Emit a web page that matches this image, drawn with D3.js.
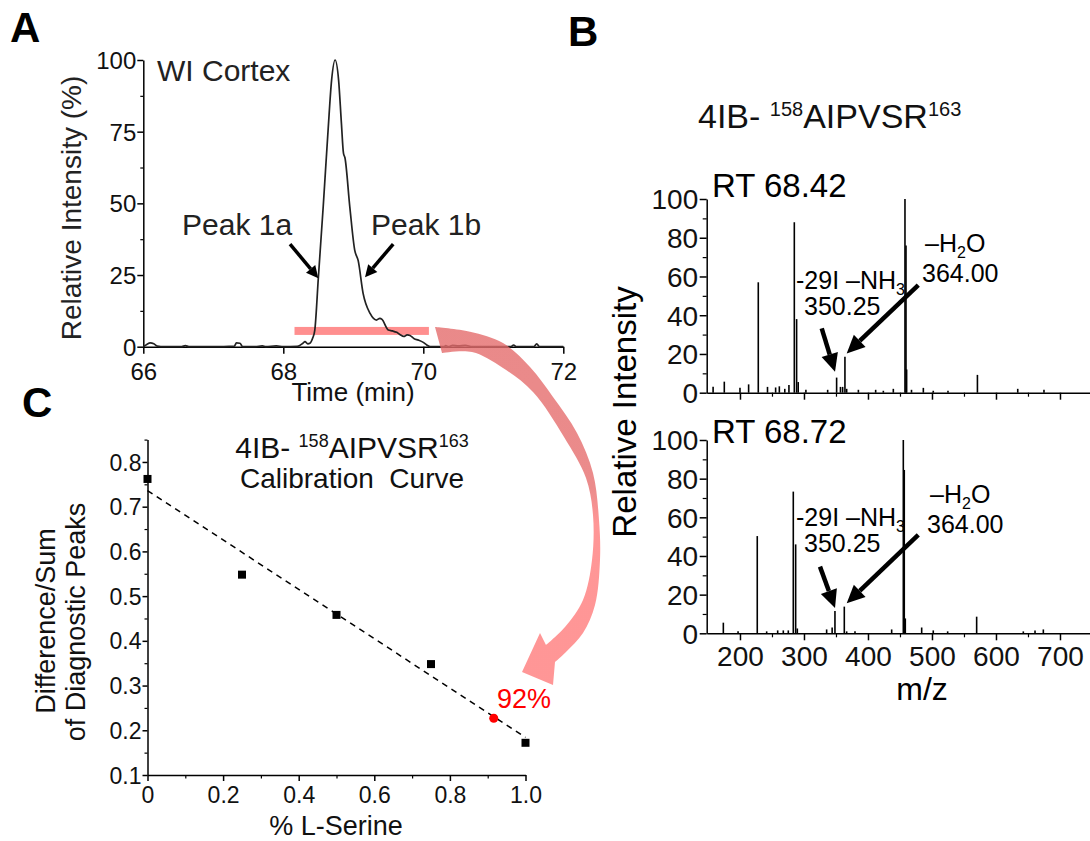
<!DOCTYPE html>
<html>
<head>
<meta charset="utf-8">
<script src="https://cdn.jsdelivr.net/npm/d3@7"></script>
<style>
  body { margin: 0; background: #fff; }
  svg text { font-family: "Liberation Sans", Arial, sans-serif; }
</style>
</head>
<body>
<div id="canvas"></div>
<script>
"use strict";

/* Panel A: chromatogram (time in min, relative intensity in %) */
let chromTime = [66.0, 66.05, 66.1, 66.15, 66.2, 66.3, 66.55, 66.6, 66.65, 67.0, 67.3, 67.33, 67.38, 67.42,
  67.6, 67.7, 67.75, 67.9, 68.0, 68.2, 68.28, 68.31, 68.35, 68.38, 68.42, 68.45, 68.5, 68.57, 68.64,
  68.69, 68.74, 68.79, 68.83, 68.86, 68.88, 68.95, 69.02, 69.07, 69.14, 69.24, 69.33, 69.38, 69.41,
  69.5, 69.56, 69.62, 69.67, 69.72, 69.77, 69.81, 69.87, 69.93, 70.0, 70.05, 70.1, 70.3, 70.32, 70.36,
  70.42, 70.5, 70.6, 70.7, 71.25, 71.29, 71.33, 71.58, 71.62, 71.66, 72.0];
let chromIntensity = [0, 0.8, 1.3, 1.0, 0.2, 0, 0, 0.4, 0, 0, 0.2, 1.3, 1.2, 0,
  0, 0.3, 0, 0.3, 0, 0.1, 1.2, 1.8, 1.0, 1.2, 3, 5.8, 23.8, 48.8, 75.6,
  93, 100, 93, 78, 67.4, 66, 48.8, 33.7, 30, 18.6, 11.6, 9.3, 9.9, 9.5,
  5.8, 5.5, 5.0, 4.2, 3.6, 4.1, 3.9, 2.8, 2.3, 1.5, 0.6, 0, 0, 0.4, 0,
  0.5, 0.3, 0.5, 0, 0, 0.6, 0, 0, 1.0, 0, 0];
let chromTicksX = [66, 68, 70, 72];
let chromTicksY = [0, 25, 50, 75, 100];
let chromMinorY = [12.5, 37.5, 62.5, 87.5];
let peakWindow = [68.16, 70.08];   // time span of the red bar
let peakWindowLevel = 5.5;

/* Panel B: MS/MS spectra (m/z, relative intensity) */
let spec1Mz = [158, 175.5, 200, 213.5, 228.6, 243, 255.7, 261.5, 270, 276.5, 284.9, 288.5, 291, 303,
  337, 351, 357, 360.4, 364, 366.7, 385, 412, 424, 439.6, 457.8, 459.4, 460.4, 468, 486.5, 502, 525,
  571, 634, 675];
let spec1Int = [3.1, 5.7, 2.5, 4.3, 57, 3, 2.7, 3.3, 2, 4, 88, 38, 5.5, 1.5,
  1.5, 7.8, 3, 3, 18.6, 2, 1.5, 1.5, 1, 2, 100, 76, 12, 1.5, 2.5, 1, 1,
  9.2, 2, 1.5];
let spec2Mz = [174, 197, 227, 241.7, 258.9, 267.7, 275.5, 283.3, 287, 289.6, 335.4, 344, 348.4, 363,
  366.7, 379.7, 437, 455.2, 456.7, 458.3, 483.9, 502, 524.5, 569.8, 642.7, 661, 674];
let spec2Int = [5.5, 1, 50.3, 1, 1.5, 1.5, 1.5, 73.3, 46, 2.5, 2, 3, 11.5, 13.8,
  1, 1, 2, 100, 84.5, 7.7, 3, 1.5, 1, 8.6, 1, 1.5, 2];
let specTicksX = [200, 300, 400, 500, 600, 700];
let specMinorX = [250, 350, 450, 550, 650];
let specTicksY = [0, 20, 40, 60, 80, 100];
let specMinorY = [10, 30, 50, 70, 90];

/* Panel C: calibration curve */
let calX = [0, 0.25, 0.5, 0.75, 1.0];
let calY = [0.762, 0.548, 0.458, 0.348, 0.172];
let fitX = [0, 1.0];
let fitY = [0.736, 0.184];
let sampleX = [0.916];
let sampleY = [0.227];
let calTicksX = [0, 0.2, 0.4, 0.6, 0.8, 1.0];
let calTickLabelsX = ["0", "0.2", "0.4", "0.6", "0.8", "1.0"];
let calMinorX = [0.1, 0.3, 0.5, 0.7, 0.9];
let calTicksY = [0.1, 0.2, 0.3, 0.4, 0.5, 0.6, 0.7, 0.8];
let calMinorY = [0.15, 0.25, 0.35, 0.45, 0.55, 0.65, 0.75, 0.85];

/* Drawing canvas */
let svgWidth = 1090;
let svgHeight = 841;
let svg = d3.select("#canvas")
  .append("svg")
  .attr("width", svgWidth)
  .attr("height", svgHeight);

let defs = svg.append("defs");

/* helper: style an axis group */
function styleAxis(g, fontSize) {
  g.select(".domain").attr("stroke", "#000").attr("stroke-width", 1.5);
  g.selectAll(".tick line").attr("stroke", "#000").attr("stroke-width", 1.5);
  g.selectAll("text").attr("fill", "#111").attr("font-size", fontSize + "px")
    .attr("font-family", "'Liberation Sans', Arial, sans-serif");
}

function minorAxis(axisFn, scale, values, size, transform) {
  let g = svg.append("g")
    .attr("transform", transform)
    .call(axisFn(scale).tickValues(values).tickSize(size).tickFormat(""));
  g.select(".domain").remove();
  g.selectAll(".tick line").attr("stroke", "#000").attr("stroke-width", 1.2);
}

/* helper: straight arrow with filled head */
function arrow(x1, y1, x2, y2, w, headLen, headWid) {
  let ang = Math.atan2(y2 - y1, x2 - x1);
  let bx = x2 - headLen * Math.cos(ang);
  let by = y2 - headLen * Math.sin(ang);
  svg.append("line")
    .attr("x1", x1).attr("y1", y1).attr("x2", bx).attr("y2", by)
    .attr("stroke", "#000").attr("stroke-width", w);
  let px = -Math.sin(ang) * headWid / 2;
  let py = Math.cos(ang) * headWid / 2;
  svg.append("path")
    .attr("d", "M" + x2 + "," + y2 + "L" + (bx + px) + "," + (by + py) + "L" + (bx - px) + "," + (by - py) + "Z")
    .attr("fill", "#000");
}

/* ---------- Panel A ---------- */
let xA = d3.scaleLinear().domain([66, 72]).range([143.3, 563.3]);
let yA = d3.scaleLinear().domain([0, 100]).range([346.7, 60]);

let axAx = svg.append("g")
  .attr("transform", "translate(0," + yA(0) + ")")
  .call(d3.axisBottom(xA).tickValues(chromTicksX).tickSize(7).tickSizeOuter(0).tickFormat(d3.format("d")));
styleAxis(axAx, 24);
axAx.selectAll("text").attr("y", 33).attr("dy", null);

let ayA = svg.append("g")
  .attr("transform", "translate(" + xA(66) + ",0)")
  .call(d3.axisLeft(yA).tickValues(chromTicksY).tickSize(6).tickPadding(1).tickSizeOuter(0));
styleAxis(ayA, 24);
ayA.selectAll("text").attr("dy", "0.35em");
minorAxis(d3.axisLeft, yA, chromMinorY, 3, "translate(" + xA(66) + ",0)");

/* red bar marking the diagnostic window */
svg.append("rect")
  .attr("x", xA(peakWindow[0]))
  .attr("y", yA(peakWindowLevel) - 4)
  .attr("width", xA(peakWindow[1]) - xA(peakWindow[0]))
  .attr("height", 8)
  .attr("fill", "rgb(255,100,100)")
  .attr("fill-opacity", 0.72);

let chromData = chromTime.map(function (t, i) { return { t: t, v: chromIntensity[i] }; });
svg.append("path")
  .datum(chromData)
  .attr("fill", "none")
  .attr("stroke", "#222")
  .attr("stroke-width", 1.7)
  .attr("d", d3.line()
    .x(function (d) { return xA(d.t); })
    .y(function (d) { return yA(d.v); })
    .curve(d3.curveMonotoneX));

svg.append("text").attr("x", 157).attr("y", 81).attr("font-size", "30px").attr("fill", "#222").text("WI Cortex");
svg.append("text").attr("x", 182).attr("y", 235).attr("font-size", "30px").attr("fill", "#222").text("Peak 1a");
svg.append("text").attr("x", 371).attr("y", 235).attr("font-size", "30px").attr("fill", "#222").text("Peak 1b");
arrow(xA(68.096), yA(35.8), xA(68.5), yA(23.9), 3.5, 12, 12);
arrow(xA(69.57), yA(35.8), xA(69.167), yA(24.2), 3.5, 12, 12);

svg.append("text")
  .attr("transform", "translate(81,208) rotate(-90)")
  .attr("text-anchor", "middle")
  .attr("font-size", "28px").attr("fill", "#222")
  .text("Relative Intensity (%)");
svg.append("text").attr("x", 353).attr("y", 401).attr("text-anchor", "middle")
  .attr("font-size", "26px").attr("fill", "#111").text("Time (min)");

/* ---------- Panel B ---------- */
let xB = d3.scaleLinear().domain([148, 748]).range([706.7, 1090.7]);
let yB1 = d3.scaleLinear().domain([0, 100]).range([392.7, 199]);
let yB2 = d3.scaleLinear().domain([0, 100]).range([633.3, 440]);

function spectrum(yS, mz, inten, showLabels) {
  let gx = svg.append("g")
    .attr("transform", "translate(0," + yS(0) + ")")
    .call(d3.axisBottom(xB).tickValues(specTicksX).tickSize(7).tickSizeOuter(0));
  styleAxis(gx, 28);
  if (showLabels) {
    gx.selectAll("text").attr("y", 33).attr("dy", null);
  } else {
    gx.selectAll("text").remove();
  }
  minorAxis(d3.axisBottom, xB, specMinorX, 4, "translate(0," + yS(0) + ")");

  let gy = svg.append("g")
    .attr("transform", "translate(" + xB(148) + ",0)")
    .call(d3.axisLeft(yS).tickValues(specTicksY).tickSize(7).tickPadding(1.5).tickSizeOuter(0));
  styleAxis(gy, 28);
  gy.selectAll("text").attr("dy", "0.35em");
  minorAxis(d3.axisLeft, yS, specMinorY, 4, "translate(" + xB(148) + ",0)");

  let peaks = mz.map(function (m, i) { return { mz: m, v: inten[i] }; });
  svg.append("g").selectAll("line")
    .data(peaks)
    .enter()
    .append("line")
    .attr("x1", function (d) { return xB(d.mz); })
    .attr("x2", function (d) { return xB(d.mz); })
    .attr("y1", yS(0))
    .attr("y2", function (d) { return yS(d.v); })
    .attr("stroke", "#000")
    .attr("stroke-width", 1.6);
}

spectrum(yB1, spec1Mz, spec1Int, false);
spectrum(yB2, spec2Mz, spec2Int, true);

/* title with superscripts */
function peptideTitle(x, y, size, anchor) {
  let t = svg.append("text").attr("x", x).attr("y", y).attr("font-size", size + "px")
    .attr("text-anchor", anchor).attr("fill", "#111");
  let sup = Math.round(size * 0.6);
  let lift = Math.round(size * 0.36);
  t.append("tspan").text("4IB- ");
  t.append("tspan").attr("font-size", sup + "px").attr("dy", -lift).text("158");
  t.append("tspan").attr("dy", lift).text("AIPVSR");
  t.append("tspan").attr("font-size", sup + "px").attr("dy", -lift).text("163");
  return t;
}
peptideTitle(698, 128, 34, "start");

svg.append("text").attr("x", 712).attr("y", 197).attr("font-size", "33px").attr("fill", "#000").text("RT 68.42");
svg.append("text").attr("x", 712).attr("y", 443).attr("font-size", "33px").attr("fill", "#000").text("RT 68.72");

function fragLabels(dy) {
  let t1 = svg.append("text").attr("x", 796).attr("y", 289 + dy).attr("font-size", "25px").attr("fill", "#000");
  t1.append("tspan").text("-29I \u2013NH");
  t1.append("tspan").attr("font-size", "16px").attr("dy", 6).text("3");
  svg.append("text").attr("x", 804).attr("y", 315 + dy).attr("font-size", "25px").attr("fill", "#000").text("350.25");
}
fragLabels(0);
fragLabels(237);

function waterLabels(xOff, dy) {
  let t = svg.append("text").attr("x", 925 + xOff).attr("y", 252 + dy).attr("font-size", "25px").attr("fill", "#000");
  t.append("tspan").text("\u2013H");
  t.append("tspan").attr("font-size", "16px").attr("dy", 6).text("2");
  t.append("tspan").attr("dy", -6).text("O");
  svg.append("text").attr("x", 922 + xOff).attr("y", 282 + dy).attr("font-size", "25px").attr("fill", "#000").text("364.00");
}
waterLabels(0, 0);
waterLabels(5, 251);

arrow(xB(327.7), yB1(33.2), xB(348.5), yB1(10.8), 4.5, 18, 17);
arrow(xB(478.6), yB1(55.6), xB(366.75), yB1(20.3), 4.5, 18, 17);
arrow(xB(325), yB2(34.5), xB(348.5), yB2(13.1), 4.5, 18, 17);
arrow(xB(478.6), yB2(50.9), xB(366.75), yB2(15.5), 4.5, 18, 17);

svg.append("text")
  .attr("transform", "translate(636,412) rotate(-90)")
  .attr("text-anchor", "middle")
  .attr("font-size", "33px").attr("fill", "#000")
  .text("Relative Intensity");
svg.append("text").attr("x", 922).attr("y", 700).attr("text-anchor", "middle")
  .attr("font-size", "32px").attr("fill", "#000").text("m/z");

/* ---------- Panel C ---------- */
let xC = d3.scaleLinear().domain([0, 1]).range([147.5, 525.5]);
let yC = d3.scaleLinear().domain([0.1, 0.85]).range([775, 439.6]);

let axC = svg.append("g")
  .attr("transform", "translate(0," + yC(0.1) + ")")
  .call(d3.axisBottom(xC).tickValues(calTicksX).tickSize(6).tickSizeOuter(0)
    .tickFormat(function (d, i) { return calTickLabelsX[i]; }));
styleAxis(axC, 23);
axC.selectAll("text").attr("y", 28).attr("dy", null);
minorAxis(d3.axisBottom, xC, calMinorX, 3.5, "translate(0," + yC(0.1) + ")");

let ayC = svg.append("g")
  .attr("transform", "translate(" + xC(0) + ",0)")
  .call(d3.axisLeft(yC).tickValues(calTicksY).tickSize(5).tickPadding(1).tickSizeOuter(0)
    .tickFormat(d3.format(".1f")));
styleAxis(ayC, 23);
ayC.selectAll("text").attr("dy", "0.35em");
minorAxis(d3.axisLeft, yC, calMinorY, 3, "translate(" + xC(0) + ",0)");

let fitData = fitX.map(function (x, i) { return { x: x, y: fitY[i] }; });
svg.append("path")
  .datum(fitData)
  .attr("fill", "none")
  .attr("stroke", "#000")
  .attr("stroke-width", 1.5)
  .attr("stroke-dasharray", "6,5")
  .attr("d", d3.line()
    .x(function (d) { return xC(d.x); })
    .y(function (d) { return yC(d.y); }));

let calData = calX.map(function (x, i) { return { x: x, y: calY[i] }; });
svg.append("g").selectAll("rect")
  .data(calData)
  .enter()
  .append("rect")
  .attr("x", function (d) { return xC(d.x) - 4; })
  .attr("y", function (d) { return yC(d.y) - 4; })
  .attr("width", 8)
  .attr("height", 8)
  .attr("fill", "#000");

let sampleData = sampleX.map(function (x, i) { return { x: x, y: sampleY[i] }; });
svg.append("g").selectAll("circle")
  .data(sampleData)
  .enter()
  .append("circle")
  .attr("cx", function (d) { return xC(d.x); })
  .attr("cy", function (d) { return yC(d.y); })
  .attr("r", 4.5)
  .attr("fill", "#f00");
svg.append("text").attr("x", 497).attr("y", 708).attr("font-size", "27px").attr("fill", "#f00").text("92%");

peptideTitle(352, 458, 30, "middle");
svg.append("text").attr("x", 352).attr("y", 488).attr("text-anchor", "middle")
  .attr("font-size", "28px").attr("fill", "#111")
  .text("Calibration\u00a0 Curve");

svg.append("text")
  .attr("transform", "translate(55,621) rotate(-90)")
  .attr("text-anchor", "middle")
  .attr("font-size", "27px").attr("fill", "#111")
  .text("Difference/Sum");
svg.append("text")
  .attr("transform", "translate(85,622) rotate(-90)")
  .attr("text-anchor", "middle")
  .attr("font-size", "27px").attr("fill", "#111")
  .text("of Diagnostic Peaks");
svg.append("text").attr("x", 336).attr("y", 835).attr("text-anchor", "middle")
  .attr("font-size", "27px").attr("fill", "#111").text("% L-Serine");

/* ---------- curved pink arrow from A to C ---------- */
let grad = defs.append("linearGradient")
  .attr("id", "arrowGrad")
  .attr("gradientUnits", "userSpaceOnUse")
  .attr("x1", 0).attr("y1", 327).attr("x2", 0).attr("y2", 685);
grad.append("stop").attr("offset", "0%").attr("stop-color", "rgb(228,108,108)");
grad.append("stop").attr("offset", "45%").attr("stop-color", "rgb(230,110,110)");
grad.append("stop").attr("offset", "55%").attr("stop-color", "rgb(255,124,124)");
grad.append("stop").attr("offset", "100%").attr("stop-color", "rgb(255,124,124)");

let outerEdge = [[435, 327], [470, 331.7], [503, 343], [530, 367], [553, 397], [577, 433], [593, 473],
  [599, 520], [600, 560], [595, 605], [583, 633], [566, 652], [555, 662]];
let arrowHead = [[553, 685], [522, 672], [540, 633]];
let innerEdge = [[546, 645], [565, 627], [583, 600], [592, 560], [593, 515], [586, 478], [564, 437],
  [533, 392], [503, 368], [472, 352], [442, 353]];
let edgeLine = d3.line().curve(d3.curveCatmullRom);
let arrowPath = edgeLine(outerEdge) + "L" + arrowHead.map(function (p) { return p.join(","); }).join("L") +
  "L" + edgeLine(innerEdge).slice(1) + "Z";
svg.append("path")
  .attr("d", arrowPath)
  .attr("fill", "url(#arrowGrad)")
  .attr("fill-opacity", 0.8);

/* panel letters */
svg.append("text").attr("x", 10).attr("y", 42).attr("font-size", "42px").attr("font-weight", "bold").text("A");
svg.append("text").attr("x", 568).attr("y", 46).attr("font-size", "42px").attr("font-weight", "bold").text("B");
svg.append("text").attr("x", 22).attr("y", 417).attr("font-size", "42px").attr("font-weight", "bold").text("C");
</script>
</body>
</html>
